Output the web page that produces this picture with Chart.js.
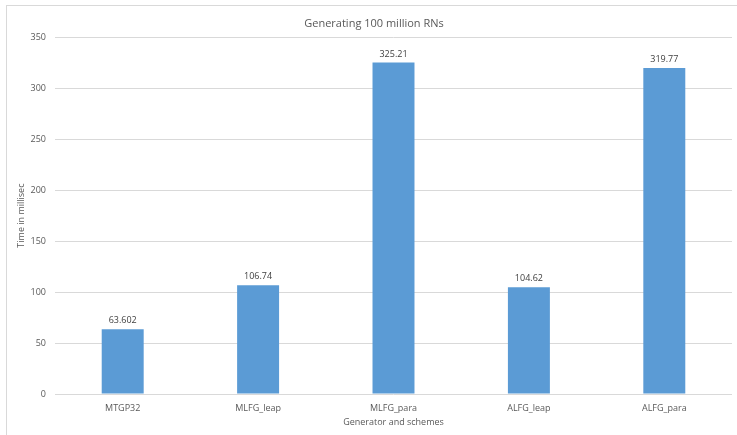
<!DOCTYPE html>
<html>
<head>
<meta charset="utf-8">
<script src="https://cdn.jsdelivr.net/npm/chart.js@4"></script>
<style>
  html, body { margin: 0; padding: 0; background: #fff; overflow: hidden; }
  #wrap { position: relative; width: 737px; height: 435px; }
  #frame { position: absolute; left: 6px; top: 5px; width: 760px; height: 460px; border: 1px solid #d9d9d9; }
  canvas { position: absolute; left: 0; top: 0; }
</style>
</head>
<body>
<div id="wrap">
  <div id="frame"></div>
  <canvas id="chart" width="737" height="435"></canvas>
</div>
<script>
const categories = ["MTGP32", "MLFG_leap", "MLFG_para", "ALFG_leap", "ALFG_para"];
const timesMs = [63.602, 106.74, 325.21, 104.62, 319.77];
const valueLabels = ["63.602", "106.74", "325.21", "104.62", "319.77"];
const yTicks = [0, 50, 100, 150, 200, 250, 300, 350];

const fontFamily = "'Open Sans', 'Liberation Sans', sans-serif";
const textColor = "#595959";

// writes the value above every bar
const barLabels = {
  id: "barLabels",
  afterDatasetsDraw(chart) {
    const ctx = chart.ctx;
    const meta = chart.getDatasetMeta(0);
    ctx.save();
    ctx.font = "9px " + fontFamily;
    ctx.fillStyle = "#404040";
    ctx.textAlign = "center";
    ctx.textBaseline = "bottom";
    meta.data.forEach((bar, i) => {
      ctx.fillText(valueLabels[i], bar.x, bar.y - 4);
    });
    ctx.restore();
  }
};

new Chart(document.getElementById("chart"), {
  type: "bar",
  data: {
    labels: categories,
    datasets: [{
      data: timesMs,
      backgroundColor: "#5b9bd5",
      categoryPercentage: 1,
      barPercentage: 0.31
    }]
  },
  options: {
    responsive: false,
    animation: false,
    layout: { padding: { left: 16, right: 5, top: 0, bottom: 0 } },
    plugins: {
      legend: { display: false },
      tooltip: { enabled: false },
      title: {
        display: true,
        text: "Generating 100 million RNs",
        color: textColor,
        font: { family: fontFamily, size: 11, weight: "normal" },
        padding: { top: 17, bottom: 7 }
      }
    },
    scales: {
      x: {
        grid: { display: false, drawTicks: false },
        border: { display: false },
        ticks: { color: textColor, font: { family: fontFamily, size: 9 }, padding: 9, maxRotation: 0 },
        title: {
          display: true,
          text: "Generator and schemes",
          color: textColor,
          font: { family: fontFamily, size: 9 },
          padding: { top: 0, bottom: 7 }
        },
        afterFit(scale) { scale.height = 41; }
      },
      y: {
        min: 0,
        max: 350,
        afterBuildTicks(scale) { scale.ticks = yTicks.map(v => ({ value: v })); },
        grid: { color: "#d9d9d9", drawTicks: false },
        border: { display: false },
        ticks: { color: textColor, font: { family: fontFamily, size: 9 }, padding: 9 },
        title: {
          display: true,
          text: "Time in millisec",
          color: textColor,
          font: { family: fontFamily, size: 9 },
          padding: { top: 0, bottom: 0 }
        },
        afterFit(scale) { scale.width = 39; }
      }
    }
  },
  plugins: [barLabels]
});
</script>
</body>
</html>
